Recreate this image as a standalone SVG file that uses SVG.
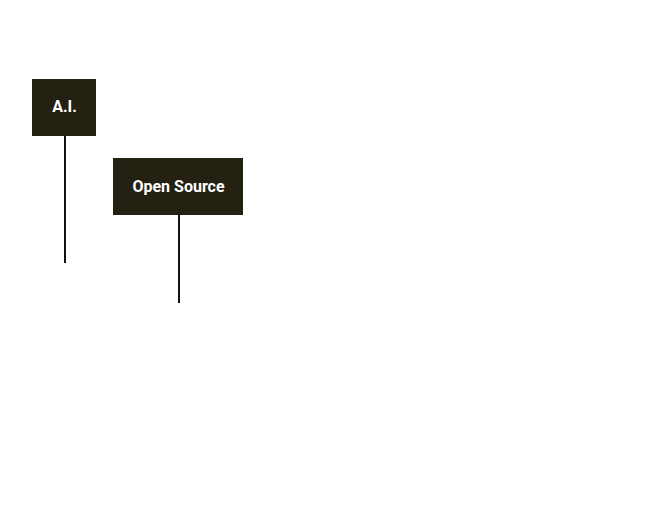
<svg xmlns="http://www.w3.org/2000/svg" width="645" height="520" viewBox="0 0 645 520">
<style>
.box{fill:#242113}
.lbl{fill:#ffffff;font-family:Roboto,"Liberation Sans",sans-serif;font-weight:bold;font-size:16px;text-anchor:middle;dominant-baseline:central}
.conn{stroke:#111111;stroke-width:2;fill:none}
</style>
<rect width="645" height="520" fill="#ffffff"/>
<g id="connectors">
<line class="conn" x1="65" y1="135" x2="65" y2="263"/>
<line class="conn" x1="179" y1="214" x2="179" y2="303"/>
</g>
<g id="node-ai">
<rect class="box" x="32" y="79" width="64" height="57"/>
<text class="lbl" x="64.5" y="106">A.I.</text>
</g>
<g id="node-open-source">
<rect class="box" x="113" y="158" width="130" height="57"/>
<text class="lbl" x="178.5" y="186">Open Source</text>
</g>
</svg>
